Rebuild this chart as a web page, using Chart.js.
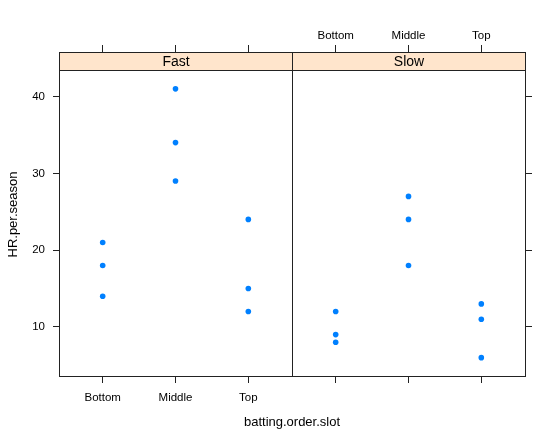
<!DOCTYPE html>
<html>
<head>
<meta charset="utf-8">
<script src="https://cdn.jsdelivr.net/npm/chart.js@4"></script>
<style>
  html, body { margin: 0; padding: 0; background: #ffffff; }
  #wrap { width: 560px; height: 441px; position: relative; }
</style>
</head>
<body>
<div id="wrap"><canvas id="c" width="560" height="441"></canvas></div>
<script>
// ---- data ----
const categories = ['Bottom', 'Middle', 'Top'];
const panels = ['Fast', 'Slow'];
const fastBottom = [21, 18, 14];
const fastMiddle = [41, 34, 29];
const fastTop = [24, 15, 12];
const slowBottom = [12, 9, 8];
const slowMiddle = [27, 24, 18];
const slowTop = [13, 11, 6];
const yTicks = [10, 20, 30, 40];
const yLabel = 'HR.per.season';
const xLabel = 'batting.order.slot';

// ---- layout helpers ----
const panelWidth = 3.2;          // each panel spans 0.4 .. 3.6 in category units
const xMin = 0.4;
const xMax = xMin + panelWidth * panels.length;
const yMin = 3.48;
const yPanelMax = 43.46;
const yMax = 45.8;               // extra room for the strip
const pointColor = '#0080ff';
const lineColor = '#222222';
const stripFill = '#ffe5cc';
const fontFamily = '"Liberation Sans", Arial, sans-serif';

const panelValues = [
  [fastBottom, fastMiddle, fastTop],
  [slowBottom, slowMiddle, slowTop]
];

function panelPoints(p) {
  const pts = [];
  panelValues[p].forEach((vals, i) => {
    vals.forEach(v => pts.push({ x: p * panelWidth + (i + 1), y: v }));
  });
  return pts;
}
const catPositions = [];
panels.forEach((_, p) => categories.forEach((_, i) => catPositions.push(p * panelWidth + i + 1)));

function catLabel(value, panelIndex) {
  const p = Math.floor((value - xMin) / panelWidth);
  if (p !== panelIndex) return '';
  const i = Math.round(value - p * panelWidth) - 1;
  return categories[i];
}

const latticePlugin = {
  id: 'lattice',
  beforeDatasetsDraw(chart) {
    const ctx = chart.ctx;
    const a = chart.chartArea;
    const xs = chart.scales.x;
    const ys = chart.scales.y;
    const top = Math.round(a.top) + 0.5;
    const stripBottom = Math.round(ys.getPixelForValue(yPanelMax)) + 0.5;
    ctx.save();
    panels.forEach((name, p) => {
      const l = Math.round(xs.getPixelForValue(xMin + p * panelWidth)) + 0.5;
      const r = Math.round(xs.getPixelForValue(xMin + (p + 1) * panelWidth)) + 0.5;
      ctx.fillStyle = stripFill;
      ctx.fillRect(l, top, r - l, stripBottom - top);
      ctx.fillStyle = '#000';
      ctx.font = '14px ' + fontFamily;
      ctx.textAlign = 'center';
      ctx.textBaseline = 'middle';
      ctx.fillText(name, (l + r) / 2, (top + stripBottom) / 2 + 1);
    });
    ctx.restore();
  },
  afterDatasetsDraw(chart) {
    const ctx = chart.ctx;
    const a = chart.chartArea;
    const xs = chart.scales.x;
    const ys = chart.scales.y;
    const top = Math.round(a.top) + 0.5;
    const bottom = Math.round(a.bottom) - 0.5;
    const stripBottom = Math.round(ys.getPixelForValue(yPanelMax)) + 0.5;
    ctx.save();
    ctx.strokeStyle = lineColor;
    ctx.lineWidth = 1;
    panels.forEach((name, p) => {
      const l = Math.round(xs.getPixelForValue(xMin + p * panelWidth)) + 0.5;
      const r = Math.round(xs.getPixelForValue(xMin + (p + 1) * panelWidth)) + 0.5;
      ctx.strokeRect(l, top, r - l, bottom - top);
      ctx.beginPath();
      ctx.moveTo(l, stripBottom);
      ctx.lineTo(r, stripBottom);
      ctx.stroke();
    });
    ctx.restore();
  }
};

const tickFont = { family: fontFamily, size: 11.5 };

new Chart(document.getElementById('c'), {
  type: 'scatter',
  data: {
    datasets: panels.map((name, p) => ({
      label: name,
      data: panelPoints(p),
      backgroundColor: pointColor,
      borderColor: pointColor,
      borderWidth: 0,
      pointRadius: 2.8,
      pointHoverRadius: 2.8
    }))
  },
  options: {
    responsive: false,
    animation: false,
    layout: { padding: 0 },
    plugins: { legend: { display: false }, tooltip: { enabled: false } },
    scales: {
      x: {
        type: 'linear', position: 'bottom', min: xMin, max: xMax,
        afterBuildTicks: s => { s.ticks = catPositions.map(v => ({ value: v })); },
        afterFit: s => { s.height = 64; },
        grid: { drawOnChartArea: false, drawTicks: true, tickLength: 6, tickColor: lineColor },
        border: { display: false },
        ticks: { autoSkip: false, maxRotation: 0, padding: 8, color: '#000', font: tickFont,
                 callback: v => catLabel(v, 0) },
        title: { display: true, text: xLabel, color: '#000', font: { family: fontFamily, size: 13 },
                 padding: { top: 0, bottom: 11 } }
      },
      x2: {
        type: 'linear', position: 'top', min: xMin, max: xMax,
        afterBuildTicks: s => { s.ticks = catPositions.map(v => ({ value: v })); },
        afterFit: s => { s.height = 52; },
        grid: { drawOnChartArea: false, drawTicks: true, tickLength: 7, tickColor: lineColor },
        border: { display: false },
        ticks: { autoSkip: false, maxRotation: 0, padding: 2, color: '#000', font: tickFont,
                 callback: v => catLabel(v, 1) }
      },
      y: {
        type: 'linear', position: 'left', min: yMin, max: yMax,
        afterBuildTicks: s => { s.ticks = yTicks.map(v => ({ value: v })); },
        afterFit: s => { s.width = 59; },
        grid: { drawOnChartArea: false, drawTicks: true, tickLength: 6, tickColor: lineColor },
        border: { display: false },
        ticks: { padding: 8, color: '#000', font: tickFont, callback: v => String(v) },
        title: { display: true, text: yLabel, color: '#000', font: { family: fontFamily, size: 13 },
                 padding: { top: 6, bottom: 0 } }
      },
      y2: {
        type: 'linear', position: 'right', min: yMin, max: yMax,
        afterBuildTicks: s => { s.ticks = yTicks.map(v => ({ value: v })); },
        afterFit: s => { s.width = 35; },
        grid: { drawOnChartArea: false, drawTicks: true, tickLength: 7, tickColor: lineColor },
        border: { display: false },
        ticks: { padding: 0, color: '#000', font: tickFont, callback: () => '' }
      }
    }
  },
  plugins: [latticePlugin]
});
</script>
</body>
</html>
